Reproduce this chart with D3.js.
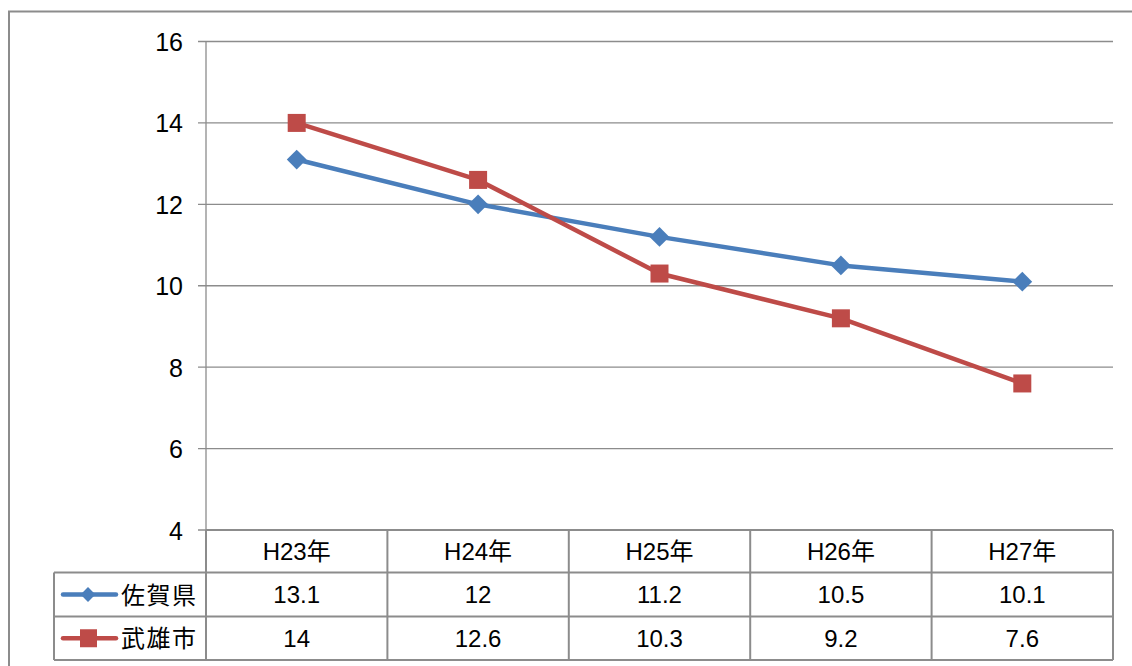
<!DOCTYPE html>
<html><head><meta charset="utf-8">
<script src="https://cdn.jsdelivr.net/npm/d3@7/dist/d3.min.js"></script>
<style>
body{margin:0;background:#fff;}
svg text{font-family:"Liberation Sans",Arial,"Noto Sans CJK JP",sans-serif;}
</style></head><body>
<svg id="c" width="1132" height="666"></svg>
<script>
const categories = ["H23年","H24年","H25年","H26年","H27年"];
const seriesNames = ["佐賀県","武雄市"];
const sagaValues = [13.1, 12, 11.2, 10.5, 10.1];
const takeoValues = [14, 12.6, 10.3, 9.2, 7.6];
const yTicks = [4, 6, 8, 10, 12, 14, 16];
const colors = ["#4a7ebb", "#be4b48"];

(function(){
const svg = d3.select("#c");
const pLeft = 206, pRight = 1113, pTop = 41.5, pBottom = 530;
const rowH = [42.5, 44, 43.5];
const legendLeft = 54;
const grid = "#8c8c8c";
const fs = 24;

svg.append("rect").attr("x", 9).attr("y", 11.5).attr("width", 1140).attr("height", 700)
  .attr("fill", "none").attr("stroke", "#8c8c8c").attr("stroke-width", 2);

const x = d3.scaleBand().domain(categories).range([pLeft, pRight]);
const y = d3.scaleLinear().domain([4, 16]).range([pBottom, pTop]);

svg.append("g").selectAll("line").data(yTicks).join("line")
  .attr("x1", pLeft - 8).attr("x2", pRight)
  .attr("y1", d => y(d)).attr("y2", d => y(d))
  .attr("stroke", grid).attr("stroke-width", 1.3);

svg.append("line").attr("x1", pLeft).attr("x2", pLeft).attr("y1", pTop).attr("y2", pBottom)
  .attr("stroke", grid).attr("stroke-width", 1.3);

const yAxis = d3.axisLeft(y).tickValues(yTicks).tickSize(0).tickPadding(23).tickFormat(d3.format("d"));
const ga = svg.append("g").attr("transform", `translate(${pLeft},0)`).call(yAxis);
ga.select(".domain").remove();
ga.selectAll("text").attr("font-size", 25).attr("fill", "#000").attr("dy", "0.36em")
  .attr("font-family", "Liberation Sans, Arial, sans-serif");

const tTop = pBottom;
const rowY = [tTop, tTop + rowH[0], tTop + rowH[0] + rowH[1], tTop + rowH[0] + rowH[1] + rowH[2]];
const tg = svg.append("g");
tg.append("line").attr("x1", pLeft).attr("x2", pRight).attr("y1", rowY[0]).attr("y2", rowY[0]).attr("stroke", grid).attr("stroke-width", 2);
[1,2,3].forEach(i => {
  tg.append("line").attr("x1", legendLeft).attr("x2", pRight).attr("y1", rowY[i]).attr("y2", rowY[i]).attr("stroke", grid).attr("stroke-width", 2);
});
const bounds = categories.map(c => x(c)).concat([pRight]);
bounds.forEach(bx => {
  tg.append("line").attr("x1", bx).attr("x2", bx).attr("y1", rowY[0]).attr("y2", rowY[3]).attr("stroke", grid).attr("stroke-width", 2);
});
tg.append("line").attr("x1", legendLeft).attr("x2", legendLeft).attr("y1", rowY[1]).attr("y2", rowY[3]).attr("stroke", grid).attr("stroke-width", 2);

tg.selectAll("text.h").data(categories).join("text").attr("class", "h")
  .attr("x", d => x(d) + x.bandwidth() / 2).attr("y", (rowY[0] + rowY[1]) / 2 + 8.5)
  .attr("text-anchor", "middle").attr("font-size", fs).attr("fill", "#000").text(d => d);

const allSeries = [sagaValues, takeoValues];
allSeries.forEach((vals, si) => {
  const cy = (rowY[si + 1] + rowY[si + 2]) / 2;
  tg.selectAll("text.v" + si).data(vals).join("text").attr("class", "v" + si)
    .attr("x", (d, i) => x(categories[i]) + x.bandwidth() / 2).attr("y", cy + 8.5)
    .attr("text-anchor", "middle").attr("font-size", fs).attr("fill", "#000").text(d => d);
  tg.append("line").attr("x1", 63).attr("x2", 116).attr("y1", cy).attr("y2", cy)
    .attr("stroke", colors[si]).attr("stroke-width", 4.5).attr("stroke-linecap", "round");
  if (si === 0) {
    tg.append("path").attr("d", d3.symbol(d3.symbolSquare, 110)())
      .attr("transform", `translate(88,${cy}) rotate(45)`).attr("fill", colors[si]);
  } else {
    tg.append("rect").attr("x", 80).attr("y", cy - 9).attr("width", 17).attr("height", 18).attr("fill", colors[si]);
  }
  tg.append("text").attr("x", 121).attr("y", cy + 9).attr("font-size", 24).attr("fill", "#000")
    .attr("font-family", "Noto Sans CJK JP, sans-serif").attr("letter-spacing", 1.5).text(seriesNames[si]);
});

const cx = c => x(c) + x.bandwidth() / 2;
allSeries.forEach((vals, si) => {
  const line = d3.line().x((d, i) => cx(categories[i])).y(d => y(d));
  svg.append("path").datum(vals).attr("d", line).attr("fill", "none")
    .attr("stroke", colors[si]).attr("stroke-width", 4.5).attr("stroke-linejoin", "round");
});
svg.append("g").selectAll("path").data(sagaValues).join("path")
  .attr("d", d3.symbol(d3.symbolSquare, 196)())
  .attr("transform", (d, i) => `translate(${cx(categories[i])},${y(d)}) rotate(45)`)
  .attr("fill", colors[0]);
svg.append("g").selectAll("rect").data(takeoValues).join("rect")
  .attr("x", (d, i) => cx(categories[i]) - 9).attr("y", d => y(d) - 9)
  .attr("width", 18).attr("height", 18).attr("fill", colors[1]);
})();
</script>
</body></html>
